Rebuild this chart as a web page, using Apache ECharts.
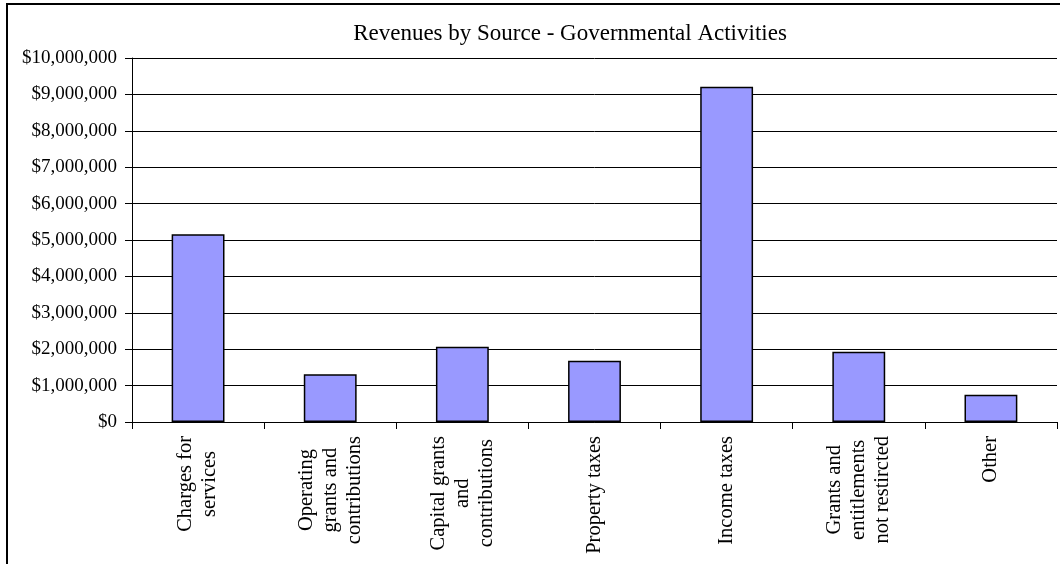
<!DOCTYPE html>
<html>
<head>
<meta charset="utf-8">
<script src="https://cdn.jsdelivr.net/npm/echarts@6/dist/echarts.min.js"></script>
<style>
html,body{margin:0;padding:0;background:#fff;}
#c{width:1060px;height:564px;}
</style>
</head>
<body>
<div id="c"></div>
<script>
const titleText = 'Revenues by Source - Governmental Activities';
const categories = [
  'Charges for\nservices',
  'Operating\ngrants and\ncontributions',
  'Capital grants\nand\ncontributions',
  'Property taxes',
  'Income taxes',
  'Grants and\nentitlements\nnot restircted',
  'Other'
];
const revenues = [5157000, 1310000, 2070000, 1680000, 9210000, 1930000, 750000];
const yTicks = [0, 10000000, 1000000]; // min, max, interval

const FONT = '"Liberation Serif", "Times New Roman", serif';
const chart = echarts.init(document.getElementById('c'), null, {renderer: 'canvas'});
chart.setOption({
  animation: false,
  backgroundColor: '#fff',
  title: {
    text: titleText,
    left: 565, top: 17, textAlign: 'center',
    textStyle: {fontFamily: FONT, fontSize: 23, fontWeight: 'normal', color: '#000'}
  },
  graphic: [{
    type: 'rect', shape: {x: 7, y: 4, width: 1200, height: 1000},
    style: {fill: 'none', stroke: '#000', lineWidth: 2}, silent: true
  }],
  grid: {left: 132, right: 3, top: 58, bottom: 142, containLabel: false},
  xAxis: {
    type: 'category',
    data: categories,
    boundaryGap: true,
    axisLine: {lineStyle: {color: '#000', width: 1}},
    axisTick: {show: true, alignWithLabel: false, length: 7, lineStyle: {color: '#000'}},
    axisLabel: {
      interval: 0, rotate: 90, margin: 14,
      fontFamily: FONT, fontSize: 20.5, color: '#000', lineHeight: 24,
      formatter: v => v.split('\n').map(l => '{c|' + l + '}').join('\n'),
      rich: {c: {align: 'center', fontFamily: FONT, fontSize: 20.5, color: '#000', lineHeight: 24}}
    },
    splitLine: {show: false}
  },
  yAxis: {
    type: 'value',
    min: yTicks[0], max: yTicks[1], interval: yTicks[2],
    axisLine: {show: true, lineStyle: {color: '#000', width: 1}},
    axisTick: {show: true, length: 7, lineStyle: {color: '#000'}},
    axisLabel: {
      margin: 15, fontFamily: FONT, fontSize: 19, color: '#000',
      formatter: v => '$' + v.toLocaleString('en-US')
    },
    splitLine: {show: true, lineStyle: {color: '#000', width: 1}}
  },
  series: [{
    type: 'bar',
    data: revenues,
    barWidth: '40%',
    itemStyle: {color: '#9999ff', borderColor: '#000', borderWidth: 1.5}
  }]
});
</script>
</body>
</html>
